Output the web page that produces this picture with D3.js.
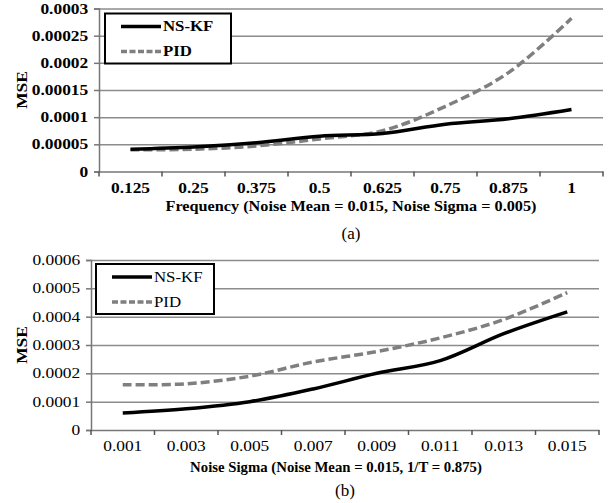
<!DOCTYPE html>
<html>
<head>
<meta charset="utf-8">
<script src="https://cdn.jsdelivr.net/npm/d3@7"></script>
<style>
  body { margin: 0; background: #fff; }
  svg { display: block; }
  text { font-family: "Liberation Serif", "Times New Roman", serif; fill: #000; }
  .grid line { stroke: #8c8c8c; stroke-width: 1.5; }
  .grid path { display: none; }
</style>
</head>
<body>
<div id="chart"></div>
<script>
// Panel (a): MSE vs frequency
var freqLabels = ["0.125", "0.25", "0.375", "0.5", "0.625", "0.75", "0.875", "1"];
var freqNsKf = [0.000041, 0.000045, 0.000053, 0.000065, 0.000070, 0.000087, 0.000097, 0.000114];
var freqPid = [0.000040, 0.000041, 0.000047, 0.000060, 0.000075, 0.000120, 0.000182, 0.000282];
var freqTicks = [0, 0.00005, 0.0001, 0.00015, 0.0002, 0.00025, 0.0003];
var freqTickLabels = ["0", "0.00005", "0.0001", "0.00015", "0.0002", "0.00025", "0.0003"];

// Panel (b): MSE vs noise sigma
var sigmaLabels = ["0.001", "0.003", "0.005", "0.007", "0.009", "0.011", "0.013", "0.015"];
var sigmaNsKf = [0.000060, 0.000075, 0.000100, 0.000145, 0.000200, 0.000245, 0.000340, 0.000417];
var sigmaPid = [0.000160, 0.000163, 0.000190, 0.000240, 0.000277, 0.000325, 0.000390, 0.000485];
var sigmaTicks = [0, 0.0001, 0.0002, 0.0003, 0.0004, 0.0005, 0.0006];
var sigmaTickLabels = ["0", "0.0001", "0.0002", "0.0003", "0.0004", "0.0005", "0.0006"];

var seriesNames = ["NS-KF", "PID"];

var W = 611, H = 503;
var stretch = 1.2; // the scanned figure is a bit wider than the font

var svg = d3.select("#chart").append("svg")
    .attr("width", W)
    .attr("height", H);

function drawPanel(p) {
    var g = svg.append("g");
    var x = d3.scaleBand().domain(p.labels).range([p.left, p.right]);
    var y = d3.scaleLinear().domain([0, p.ymax]).range([p.bottom, p.top]);
    var weight = p.boldTicks ? "bold" : "normal";

    // horizontal grid
    g.append("g")
        .attr("class", "grid")
        .attr("transform", "translate(" + p.left + ",0)")
        .call(d3.axisLeft(y).tickValues(p.ticks.slice(1)).tickSize(-(p.right - p.left)).tickFormat(""));

    // y axis
    var yAxis = g.append("g")
        .attr("transform", "translate(" + p.left + ",0)")
        .call(d3.axisLeft(y).tickValues(p.ticks).tickSize(5).tickPadding(4)
            .tickFormat(function(d, i) { return p.tickLabels[i]; }));
    yAxis.select(".domain").attr("stroke", "#777").attr("stroke-width", 1.5);
    yAxis.selectAll(".tick line").attr("stroke", "#777").attr("stroke-width", 1.5);
    yAxis.selectAll(".tick text")
        .attr("font-size", 14.5).attr("font-weight", weight)
        .attr("font-family", "Liberation Serif")
        .attr("transform", "scale(" + stretch + ",1)");

    // x axis, ticks on band edges
    var xAxis = g.append("g")
        .attr("transform", "translate(0," + p.bottom + ")")
        .call(d3.axisBottom(x).tickSize(0).tickPadding(11));
    xAxis.select(".domain").attr("stroke", "#777").attr("stroke-width", 1.5);
    xAxis.selectAll(".tick text")
        .attr("font-size", 14.5).attr("font-weight", weight)
        .attr("font-family", "Liberation Serif")
        .attr("transform", "scale(" + stretch + ",1)");
    var edges = p.labels.map(function(d) { return x(d); }).concat([x.range()[1]]);
    g.append("g").selectAll("line")
        .data(edges)
        .join("line")
        .attr("x1", function(d) { return d; })
        .attr("x2", function(d) { return d; })
        .attr("y1", p.bottom)
        .attr("y2", p.bottom + 5)
        .attr("stroke", "#555")
        .attr("stroke-width", 1.5);

    var line = d3.line()
        .x(function(d, i) { return x(p.labels[i]) + x.bandwidth() / 2; })
        .y(function(d) { return y(d); })
        .curve(d3.curveCatmullRom.alpha(0.5));

    g.append("path")
        .attr("d", line(p.pid))
        .attr("fill", "none")
        .attr("stroke", "#7f7f7f")
        .attr("stroke-width", 3.5)
        .attr("stroke-dasharray", "9,4");

    g.append("path")
        .attr("d", line(p.nskf))
        .attr("fill", "none")
        .attr("stroke", "#000")
        .attr("stroke-width", 3.5);

    // legend
    var lg = g.append("g").attr("transform", "translate(" + p.legend[0] + "," + p.legend[1] + ")");
    lg.append("rect")
        .attr("width", p.legend[2]).attr("height", 50)
        .attr("fill", "#fff").attr("stroke", "#000").attr("stroke-width", 2);
    seriesNames.forEach(function(name, i) {
        var ly = 13 + i * 25;
        lg.append("line")
            .attr("x1", 16).attr("x2", 56).attr("y1", ly).attr("y2", ly)
            .attr("stroke", i === 0 ? "#000" : "#7f7f7f")
            .attr("stroke-width", 3.5)
            .attr("stroke-dasharray", i === 0 ? null : "6,2.5");
        lg.append("text")
            .attr("transform", "translate(58," + ly + ") scale(" + stretch + ",1)")
            .attr("dy", "0.35em")
            .attr("font-size", 14)
            .attr("font-weight", p.boldTicks ? "bold" : "normal")
            .text(name);
    });

    // y title
    g.append("text")
        .attr("transform", "translate(22," + ((p.top + p.bottom) / 2) + ") rotate(-90) scale(" + stretch + ",1)")
        .attr("text-anchor", "middle")
        .attr("dy", "0.35em")
        .attr("font-size", 14.5)
        .attr("font-weight", "bold")
        .text("MSE");

    // x title
    g.append("text")
        .attr("transform", "translate(" + p.titleX + "," + p.titleY + ") scale(" + p.titleStretch + ",1)")
        .attr("text-anchor", "middle")
        .attr("dy", "0.35em")
        .attr("font-size", 14.5)
        .attr("font-weight", "bold")
        .text(p.title);

    // caption
    g.append("text")
        .attr("x", (p.left + p.right) / 2)
        .attr("y", p.captionY)
        .attr("text-anchor", "middle")
        .attr("dy", "0.35em")
        .attr("font-size", 17)
        .text(p.caption);
}

drawPanel({
    labels: freqLabels, nskf: freqNsKf, pid: freqPid,
    ticks: freqTicks, tickLabels: freqTickLabels, ymax: 0.0003,
    left: 99, right: 603, top: 8.5, bottom: 171.5,
    boldTicks: true,
    legend: [105, 13.5, 126],
    title: "Frequency (Noise Mean = 0.015, Noise Sigma = 0.005)",
    titleX: 351, titleY: 206, titleStretch: 1.12,
    caption: "(a)", captionY: 233
});

drawPanel({
    labels: sigmaLabels, nskf: sigmaNsKf, pid: sigmaPid,
    ticks: sigmaTicks, tickLabels: sigmaTickLabels, ymax: 0.0006,
    left: 91, right: 599, top: 260, bottom: 430,
    boldTicks: false,
    legend: [96, 264, 118],
    title: "Noise Sigma (Noise Mean = 0.015, 1/T = 0.875)",
    titleX: 336, titleY: 467, titleStretch: 1.02,
    caption: "(b)", captionY: 490
});
</script>
</body>
</html>
